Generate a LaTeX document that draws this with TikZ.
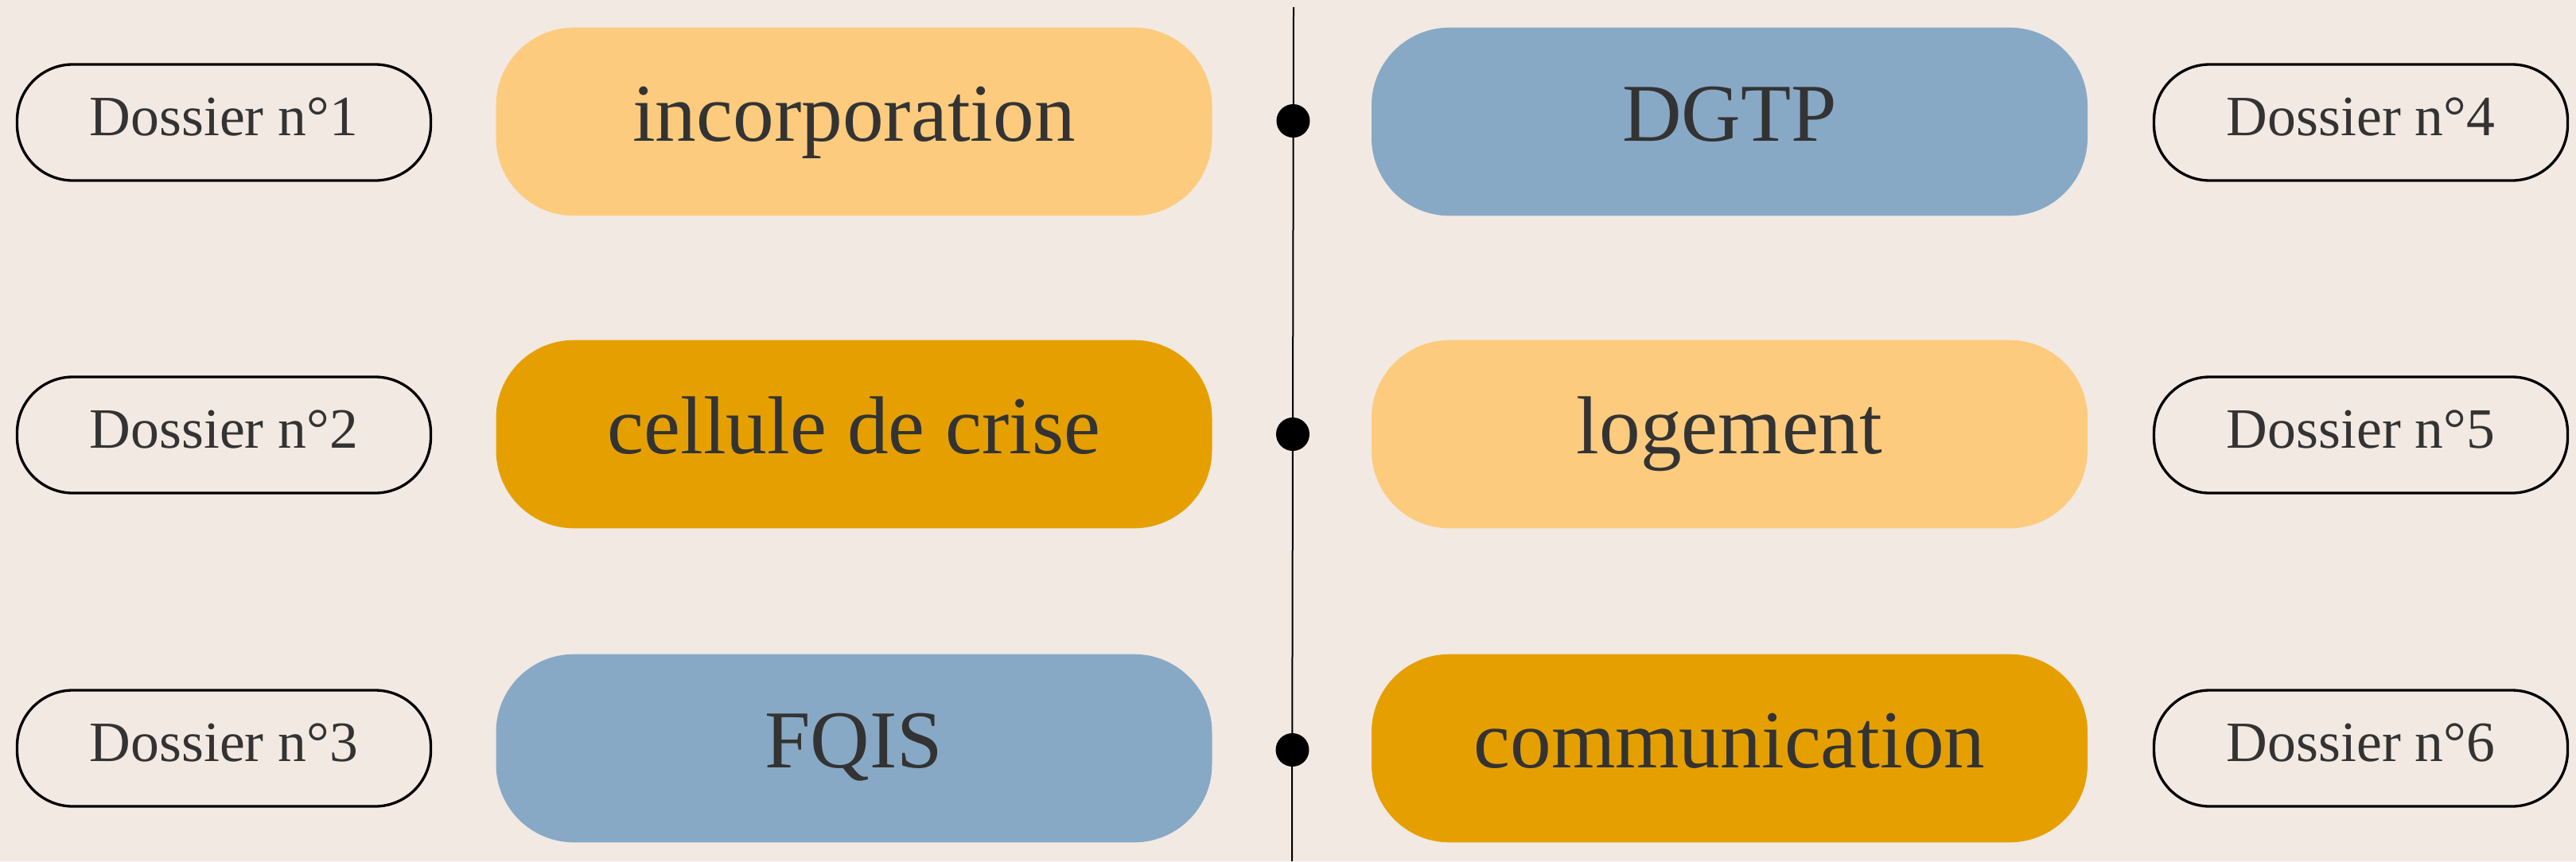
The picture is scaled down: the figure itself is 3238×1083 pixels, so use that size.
\documentclass[tikz,border=0pt]{standalone}
\usepackage{fontspec}
\setmainfont{Liberation Serif}
\definecolor{bg}{HTML}{F2E9E2}
\definecolor{lightor}{HTML}{FCCB7E}
\definecolor{darkor}{HTML}{E5A000}
\definecolor{bluey}{HTML}{87A9C6}
\definecolor{txt}{HTML}{333333}
\begin{document}
\begin{tikzpicture}[x=0.3pt,y=-0.3pt,
  dossier/.style={draw=black,line width=1pt,rounded corners=21pt,minimum width=156pt,minimum height=43.8pt,inner sep=0pt,text height=9.6pt,text depth=0pt,text=txt,font=\fontsize{21.5}{24}\selectfont},
  bigbox/.style={rounded corners=29.4pt,minimum width=270pt,minimum height=71pt,inner sep=0pt,text height=14.4pt,text depth=0pt,text=txt,font=\fontsize{31}{36}\selectfont},
  dot/.style={circle,fill=black,minimum size=12.6pt,inner sep=0pt}]
\fill[bg] (0,0) rectangle (3238,1083);
\useasboundingbox (0,0) rectangle (3238,1083);
% dossier boxes
\node[dossier] (d1) at (281.5,154) {Dossier n°1};
\node[dossier] (d2) at (281.5,547) {Dossier n°2};
\node[dossier] (d3) at (281.5,941) {Dossier n°3};
\node[dossier] (d4) at (2967.5,154) {Dossier n°4};
\node[dossier] (d5) at (2967.5,547) {Dossier n°5};
\node[dossier] (d6) at (2967.5,941) {Dossier n°6};
% big boxes
\node[bigbox,fill=lightor] (b1) at (1073.5,153) {incorporation};
\node[bigbox,fill=darkor] (b2) at (1073.5,546) {cellule de crise};
\node[bigbox,fill=bluey] (b3) at (1073.5,941) {FQIS};
\node[bigbox,fill=bluey] (b4) at (2174,153) {DGTP};
\node[bigbox,fill=lightor] (b5) at (2174,546) {logement};
\node[bigbox,fill=darkor] (b6) at (2174,941) {communication};
% timeline
\coordinate (top) at (1626,9);
\coordinate (bot) at (1624,1083);
\draw[line width=0.6pt] (top) -- (bot);
\node[dot] (p1) at (1625.5,152) {};
\node[dot] (p2) at (1625,546) {};
\node[dot] (p3) at (1624.5,943) {};
\end{tikzpicture}
\end{document}
